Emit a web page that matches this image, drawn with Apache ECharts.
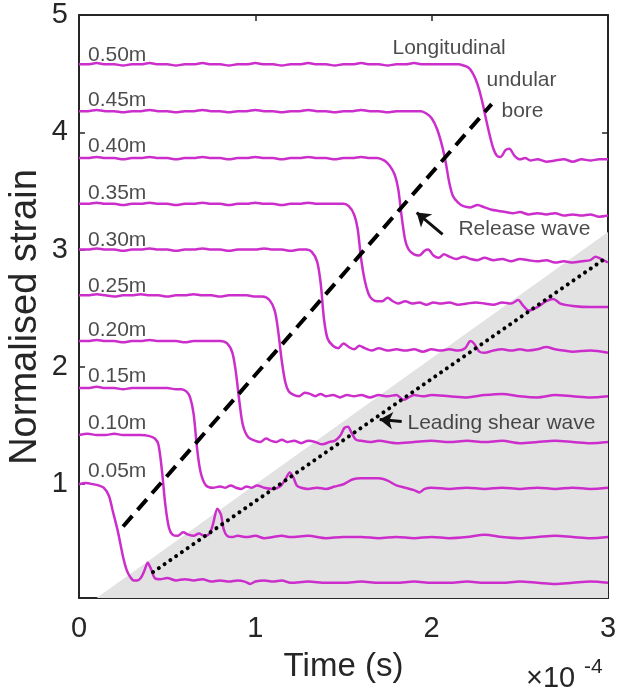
<!DOCTYPE html>
<html>
<head>
<meta charset="utf-8">
<script src="https://cdn.jsdelivr.net/npm/echarts@6/dist/echarts.min.js"></script>
<style>
html,body{margin:0;padding:0;background:#fff;}
#chart{width:626px;height:692px;}
</style>
</head>
<body>
<div id="chart"></div>
<script>
// Time in units of 1e-4 s
var xTicks = [0, 1, 2, 3];
var yTicks = [1, 2, 3, 4, 5];
var curveNames = ['0.05m','0.10m','0.15m','0.20m','0.25m','0.30m','0.35m','0.40m','0.45m','0.50m'];

var c005 = [[0,1.0],[0.04,1.01],[0.08,1.0],[0.11,0.99],[0.14,0.97],[0.17,0.9],[0.19,0.78],[0.22,0.6],[0.25,0.38],[0.27,0.27],[0.29,0.21],[0.31,0.18],[0.33,0.18],[0.35,0.2],[0.37,0.26],[0.39,0.33],[0.41,0.27],[0.43,0.2],[0.46,0.19],[0.5,0.2],[0.55,0.18],[0.6,0.19],[0.65,0.18],[0.7,0.19],[0.75,0.17],[0.8,0.18],[0.85,0.17],[0.9,0.18],[0.94,0.17],[0.97,0.15],[1.0,0.17],[1.05,0.18],[1.1,0.17],[1.15,0.18],[1.2,0.16],[1.3,0.17],[1.4,0.16],[1.5,0.16],[1.6,0.17],[1.7,0.16],[1.8,0.16],[1.9,0.17],[2.0,0.16],[2.1,0.16],[2.2,0.17],[2.3,0.16],[2.4,0.16],[2.5,0.17],[2.6,0.16],[2.7,0.15],[2.8,0.16],[2.9,0.17],[3.0,0.16]];
var c010 = [[0,1.42],[0.05,1.43],[0.1,1.42],[0.15,1.42],[0.2,1.43],[0.25,1.42],[0.3,1.42],[0.35,1.42],[0.4,1.41],[0.43,1.39],[0.45,1.34],[0.47,1.12],[0.49,0.82],[0.51,0.63],[0.53,0.57],[0.56,0.56],[0.59,0.59],[0.62,0.57],[0.65,0.56],[0.68,0.58],[0.71,0.56],[0.74,0.58],[0.76,0.66],[0.785,0.79],[0.805,0.74],[0.82,0.62],[0.84,0.56],[0.87,0.55],[0.9,0.56],[0.95,0.55],[1.0,0.56],[1.05,0.54],[1.1,0.55],[1.15,0.56],[1.2,0.55],[1.3,0.56],[1.4,0.54],[1.5,0.55],[1.6,0.55],[1.7,0.54],[1.8,0.55],[1.9,0.54],[2.0,0.55],[2.1,0.54],[2.2,0.55],[2.3,0.57],[2.4,0.55],[2.5,0.54],[2.6,0.55],[2.7,0.56],[2.8,0.55],[2.9,0.54],[3.0,0.55]];
var c015 = [[0,1.82],[0.05,1.82],[0.1,1.83],[0.15,1.82],[0.2,1.82],[0.25,1.81],[0.3,1.82],[0.35,1.82],[0.4,1.82],[0.45,1.82],[0.5,1.82],[0.55,1.81],[0.58,1.81],[0.61,1.79],[0.63,1.74],[0.65,1.6],[0.67,1.3],[0.69,1.1],[0.72,0.99],[0.76,0.97],[0.8,0.98],[0.83,0.97],[0.86,0.99],[0.89,0.97],[0.92,0.96],[0.95,0.98],[0.98,0.97],[1.01,0.99],[1.05,0.97],[1.1,0.96],[1.14,0.98],[1.17,1.04],[1.195,1.1],[1.215,1.06],[1.235,0.99],[1.26,0.97],[1.3,0.96],[1.35,0.97],[1.4,0.96],[1.45,0.98],[1.5,1.0],[1.55,1.04],[1.6,1.05],[1.65,1.05],[1.7,1.05],[1.75,1.03],[1.8,0.99],[1.85,0.97],[1.9,0.95],[1.93,0.93],[1.96,0.96],[2.0,0.97],[2.1,0.96],[2.2,0.97],[2.3,0.96],[2.4,0.97],[2.5,0.96],[2.6,0.97],[2.7,0.96],[2.8,0.97],[2.9,0.96],[3.0,0.97]];
var c020 = [[0,2.22],[0.05,2.22],[0.1,2.23],[0.15,2.22],[0.2,2.22],[0.25,2.21],[0.3,2.22],[0.35,2.22],[0.4,2.23],[0.45,2.22],[0.5,2.22],[0.55,2.22],[0.6,2.21],[0.65,2.22],[0.7,2.22],[0.75,2.22],[0.8,2.22],[0.84,2.2],[0.87,2.12],[0.89,1.95],[0.91,1.7],[0.93,1.5],[0.96,1.4],[1.0,1.37],[1.03,1.36],[1.06,1.39],[1.09,1.37],[1.12,1.36],[1.15,1.38],[1.18,1.36],[1.22,1.37],[1.26,1.35],[1.3,1.37],[1.34,1.36],[1.38,1.34],[1.42,1.36],[1.45,1.37],[1.48,1.41],[1.505,1.48],[1.525,1.49],[1.545,1.44],[1.57,1.38],[1.6,1.37],[1.65,1.36],[1.7,1.37],[1.8,1.35],[1.9,1.36],[2.0,1.37],[2.1,1.36],[2.2,1.37],[2.3,1.36],[2.4,1.37],[2.5,1.35],[2.6,1.36],[2.7,1.37],[2.8,1.36],[2.9,1.35],[3.0,1.36]];
var c025 = [[0,2.61],[0.05,2.61],[0.1,2.62],[0.15,2.61],[0.2,2.6],[0.25,2.61],[0.3,2.61],[0.35,2.62],[0.4,2.61],[0.45,2.61],[0.5,2.6],[0.55,2.61],[0.6,2.61],[0.65,2.62],[0.7,2.61],[0.75,2.61],[0.8,2.6],[0.85,2.61],[0.9,2.61],[0.95,2.61],[1.0,2.6],[1.04,2.6],[1.08,2.57],[1.11,2.48],[1.13,2.3],[1.15,2.05],[1.17,1.87],[1.19,1.79],[1.22,1.76],[1.25,1.75],[1.28,1.78],[1.31,1.77],[1.34,1.75],[1.37,1.77],[1.4,1.75],[1.44,1.76],[1.48,1.74],[1.52,1.76],[1.56,1.75],[1.6,1.76],[1.65,1.74],[1.7,1.76],[1.75,1.75],[1.8,1.76],[1.84,1.72],[1.87,1.74],[1.9,1.76],[1.95,1.75],[2.0,1.76],[2.1,1.75],[2.2,1.74],[2.3,1.76],[2.4,1.77],[2.5,1.75],[2.6,1.74],[2.7,1.76],[2.8,1.75],[2.9,1.74],[3.0,1.75]];
var c030 = [[0,3.0],[0.05,3.0],[0.1,3.01],[0.15,3.0],[0.2,3.0],[0.25,2.99],[0.3,3.0],[0.35,3.0],[0.4,3.01],[0.45,3.0],[0.5,3.0],[0.55,2.99],[0.6,3.0],[0.65,3.0],[0.7,3.01],[0.75,3.0],[0.8,3.0],[0.85,2.99],[0.9,3.0],[0.95,3.0],[1.0,3.0],[1.05,3.01],[1.1,3.0],[1.15,3.0],[1.2,2.99],[1.25,3.0],[1.29,3.0],[1.32,2.98],[1.35,2.9],[1.37,2.72],[1.39,2.4],[1.41,2.24],[1.44,2.18],[1.47,2.16],[1.5,2.2],[1.53,2.17],[1.56,2.15],[1.59,2.18],[1.62,2.16],[1.66,2.14],[1.7,2.16],[1.75,2.14],[1.8,2.15],[1.85,2.14],[1.9,2.15],[1.95,2.13],[2.0,2.15],[2.05,2.14],[2.1,2.15],[2.15,2.14],[2.19,2.16],[2.22,2.22],[2.24,2.2],[2.27,2.13],[2.3,2.12],[2.35,2.14],[2.4,2.15],[2.45,2.14],[2.5,2.15],[2.55,2.14],[2.6,2.15],[2.65,2.17],[2.7,2.15],[2.75,2.14],[2.8,2.13],[2.9,2.14],[3.0,2.12]];
var c035 = [[0,3.39],[0.05,3.39],[0.1,3.4],[0.15,3.39],[0.2,3.39],[0.25,3.38],[0.3,3.39],[0.35,3.39],[0.4,3.4],[0.45,3.39],[0.5,3.39],[0.55,3.38],[0.6,3.39],[0.65,3.39],[0.7,3.4],[0.75,3.39],[0.8,3.39],[0.85,3.38],[0.9,3.39],[0.95,3.39],[1.0,3.4],[1.05,3.39],[1.1,3.39],[1.15,3.38],[1.2,3.39],[1.25,3.39],[1.3,3.4],[1.35,3.39],[1.4,3.39],[1.45,3.39],[1.5,3.39],[1.53,3.37],[1.56,3.3],[1.58,3.18],[1.6,2.92],[1.62,2.74],[1.64,2.63],[1.66,2.58],[1.69,2.56],[1.72,2.56],[1.75,2.59],[1.78,2.56],[1.81,2.54],[1.85,2.56],[1.89,2.54],[1.93,2.55],[1.97,2.53],[2.01,2.55],[2.05,2.54],[2.1,2.55],[2.15,2.53],[2.2,2.54],[2.25,2.55],[2.3,2.54],[2.35,2.53],[2.4,2.55],[2.45,2.54],[2.49,2.57],[2.52,2.52],[2.55,2.48],[2.6,2.51],[2.65,2.56],[2.69,2.58],[2.73,2.54],[2.8,2.52],[2.9,2.51],[3.0,2.51]];
var c040 = [[0,3.78],[0.05,3.78],[0.1,3.79],[0.15,3.78],[0.2,3.78],[0.25,3.77],[0.3,3.78],[0.35,3.78],[0.4,3.79],[0.45,3.78],[0.5,3.78],[0.55,3.77],[0.6,3.78],[0.65,3.78],[0.7,3.79],[0.75,3.78],[0.8,3.78],[0.85,3.77],[0.9,3.78],[0.95,3.78],[1.0,3.79],[1.05,3.78],[1.1,3.78],[1.15,3.77],[1.2,3.78],[1.25,3.78],[1.3,3.79],[1.35,3.78],[1.4,3.78],[1.45,3.77],[1.5,3.78],[1.55,3.78],[1.6,3.79],[1.65,3.78],[1.69,3.78],[1.73,3.76],[1.76,3.72],[1.79,3.64],[1.81,3.52],[1.83,3.28],[1.85,3.08],[1.87,3.0],[1.9,2.96],[1.93,2.95],[1.96,2.99],[1.98,3.0],[2.01,2.95],[2.04,2.93],[2.07,2.96],[2.1,2.94],[2.14,2.92],[2.18,2.94],[2.22,2.92],[2.26,2.91],[2.3,2.93],[2.35,2.91],[2.4,2.92],[2.45,2.9],[2.5,2.92],[2.55,2.91],[2.6,2.9],[2.65,2.91],[2.7,2.89],[2.75,2.9],[2.8,2.89],[2.85,2.9],[2.9,2.91],[2.93,2.94],[2.96,2.92],[3.0,2.89]];
var c045 = [[0,4.18],[0.05,4.18],[0.1,4.19],[0.15,4.18],[0.2,4.18],[0.25,4.17],[0.3,4.18],[0.35,4.18],[0.4,4.19],[0.45,4.18],[0.5,4.18],[0.55,4.17],[0.6,4.18],[0.65,4.18],[0.7,4.19],[0.75,4.18],[0.8,4.18],[0.85,4.17],[0.9,4.18],[0.95,4.18],[1.0,4.19],[1.05,4.18],[1.1,4.18],[1.15,4.17],[1.2,4.18],[1.25,4.18],[1.3,4.19],[1.35,4.18],[1.4,4.18],[1.45,4.17],[1.5,4.18],[1.55,4.18],[1.6,4.19],[1.65,4.18],[1.7,4.18],[1.75,4.17],[1.8,4.18],[1.85,4.18],[1.9,4.18],[1.94,4.18],[1.97,4.16],[2.0,4.12],[2.03,4.03],[2.06,3.88],[2.08,3.74],[2.1,3.57],[2.12,3.46],[2.15,3.4],[2.18,3.37],[2.22,3.36],[2.26,3.38],[2.3,3.36],[2.34,3.34],[2.38,3.33],[2.42,3.32],[2.46,3.31],[2.5,3.32],[2.55,3.3],[2.6,3.31],[2.65,3.3],[2.7,3.31],[2.75,3.29],[2.8,3.3],[2.85,3.29],[2.9,3.3],[2.95,3.28],[3.0,3.29]];
var c050 = [[0,4.58],[0.05,4.58],[0.1,4.59],[0.15,4.58],[0.2,4.58],[0.25,4.57],[0.3,4.58],[0.35,4.58],[0.4,4.59],[0.45,4.58],[0.5,4.58],[0.55,4.57],[0.6,4.58],[0.65,4.58],[0.7,4.59],[0.75,4.58],[0.8,4.58],[0.85,4.57],[0.9,4.58],[0.95,4.58],[1.0,4.59],[1.05,4.58],[1.1,4.58],[1.15,4.57],[1.2,4.58],[1.25,4.58],[1.3,4.59],[1.35,4.58],[1.4,4.58],[1.45,4.57],[1.5,4.58],[1.55,4.58],[1.6,4.59],[1.65,4.58],[1.7,4.58],[1.75,4.57],[1.8,4.58],[1.85,4.58],[1.9,4.59],[1.95,4.58],[2.0,4.58],[2.05,4.58],[2.1,4.58],[2.15,4.58],[2.18,4.57],[2.21,4.55],[2.23,4.51],[2.25,4.45],[2.27,4.36],[2.29,4.24],[2.31,4.1],[2.33,3.97],[2.35,3.86],[2.37,3.8],[2.39,3.79],[2.42,3.85],[2.44,3.86],[2.47,3.8],[2.5,3.77],[2.53,3.78],[2.56,3.76],[2.6,3.77],[2.65,3.75],[2.7,3.76],[2.75,3.77],[2.8,3.75],[2.85,3.77],[2.9,3.76],[2.95,3.77],[3.0,3.77]];
var curves = [c005,c010,c015,c020,c025,c030,c035,c040,c045,c050];

var labelX = 0.048;
var labelY = [1.11,1.52,1.92,2.31,2.69,3.08,3.48,3.88,4.27,4.66];

var shadeEdge = [[0.1,0.03],[3.0,3.15]];
var releaseLine = [[0.25,0.64],[2.34,4.24]];
var shearLine = [[0.42,0.25],[2.98,2.92]];

var annotations = [
  ['Longitudinal',1.775,4.72],
  ['undular',2.308,4.44],
  ['bore',2.393,4.18],
  ['Release wave',2.149,3.17],
  ['Leading shear wave',1.86,1.52]
];
var releaseArrow = [[2.062,3.129],[1.915,3.316]];
var shearArrow = [[1.83,1.535],[1.705,1.552]];

var FONT = 'Liberation Sans, Arial, Helvetica, sans-serif';
var TXT = '#262626';
var MAG = '#cc2ecc';

var chart = echarts.init(document.getElementById('chart'), null, {renderer:'canvas'});

var series = [];
series.push({
  type:'line', data: shadeEdge, showSymbol:false, silent:true, z:1,
  lineStyle:{width:0}, areaStyle:{color:'#e2e2e2', opacity:1, origin:'start'}
});
curves.forEach(function(c, i){
  series.push({
    name: curveNames[i], type:'line', data:c, showSymbol:false, smooth:0.3,
    lineStyle:{color:MAG, width:2.5}, z:3, silent:true
  });
});
series.push({
  type:'line', data: releaseLine, showSymbol:false, silent:true, z:4,
  lineStyle:{color:'#000', width:4, type:[14,8]}
});
series.push({
  type:'line', data: shearLine, showSymbol:false, silent:true, z:4,
  lineStyle:{color:'#000', width:4, type:[0.01,7], cap:'round'}
});
series.push({
  type:'scatter', symbolSize:1, itemStyle:{color:'rgba(0,0,0,0)'}, silent:true, z:5,
  data: labelY.map(function(y,i){ return [labelX, y, curveNames[i]]; }),
  label:{show:true, position:'right', distance:0, formatter:function(p){return p.data[2];},
         fontSize:21, fontFamily:FONT, color:'#1e1e1e'}
});
series.push({
  type:'scatter', symbolSize:1, itemStyle:{color:'rgba(0,0,0,0)'}, silent:true, z:5,
  data: annotations.map(function(a){ return [a[1], a[2], a[0]]; }),
  label:{show:true, position:'right', distance:0, formatter:function(p){return p.data[2];},
         fontSize:21, fontFamily:FONT, color:'#1e1e1e'}
});
series.push({
  type:'line', data:[], silent:true, z:5,
  markLine:{
    silent:true, symbol:['none','arrow'], symbolSize:13, label:{show:false},
    lineStyle:{color:'#111', width:3, type:'solid'},
    emphasis:{disabled:true},
    data:[
      [{coord:releaseArrow[0]},{coord:releaseArrow[1]}],
      [{coord:shearArrow[0]},{coord:shearArrow[1]}]
    ]
  }
});

var axisLineStyle = {color:TXT, width:2};
var option = {
  animation:false,
  backgroundColor:'#fff',
  grid:{left:79, right:18, top:15, bottom:94, containLabel:false},
  xAxis:[{
    type:'value', min:0, max:3, interval:1, position:'bottom',
    axisLine:{show:true, onZero:false, lineStyle:axisLineStyle},
    axisTick:{show:true, inside:true, length:6, lineStyle:{color:TXT, width:1.5}},
    axisLabel:{show:true, fontSize:29, fontFamily:FONT, color:TXT, margin:16,
               formatter:function(v){return String(v);}},
    splitLine:{show:false},
    name:'Time (s)', nameLocation:'middle', nameGap:52,
    nameTextStyle:{fontSize:33, fontFamily:FONT, color:TXT}
  },{
    type:'value', min:0, max:3, interval:1, position:'top',
    axisLine:{show:true, onZero:false, lineStyle:axisLineStyle},
    axisTick:{show:true, inside:true, length:6, lineStyle:{color:TXT, width:1.5}},
    axisLabel:{show:false}, splitLine:{show:false}
  }],
  yAxis:[{
    type:'value', min:0.03, max:5, position:'left',
    axisLine:{show:true, onZero:false, lineStyle:axisLineStyle},
    axisTick:{show:true, inside:true, length:6, lineStyle:{color:TXT, width:1.5}, customValues:yTicks},
    axisLabel:{show:true, fontSize:29, fontFamily:FONT, color:TXT, margin:11, customValues:yTicks},
    splitLine:{show:false}
  },{
    type:'value', min:0.03, max:5, position:'right',
    axisLine:{show:true, onZero:false, lineStyle:axisLineStyle},
    axisTick:{show:true, inside:true, length:6, lineStyle:{color:TXT, width:1.5}, customValues:yTicks},
    axisLabel:{show:false}, splitLine:{show:false}
  }],
  graphic:[
    {type:'text', x:26, y:317, rotation:Math.PI/2,
     style:{text:'Normalised strain', fontSize:38, fontFamily:FONT, fill:TXT, align:'center', verticalAlign:'middle'}},
    {type:'text', left:526, top:664, style:{text:'×10', fontSize:29, fontFamily:FONT, fill:TXT}},
    {type:'text', left:584, top:657, style:{text:'-4', fontSize:21, fontFamily:FONT, fill:TXT}}
  ],
  series: series
};
chart.setOption(option);
</script>
</body>
</html>
